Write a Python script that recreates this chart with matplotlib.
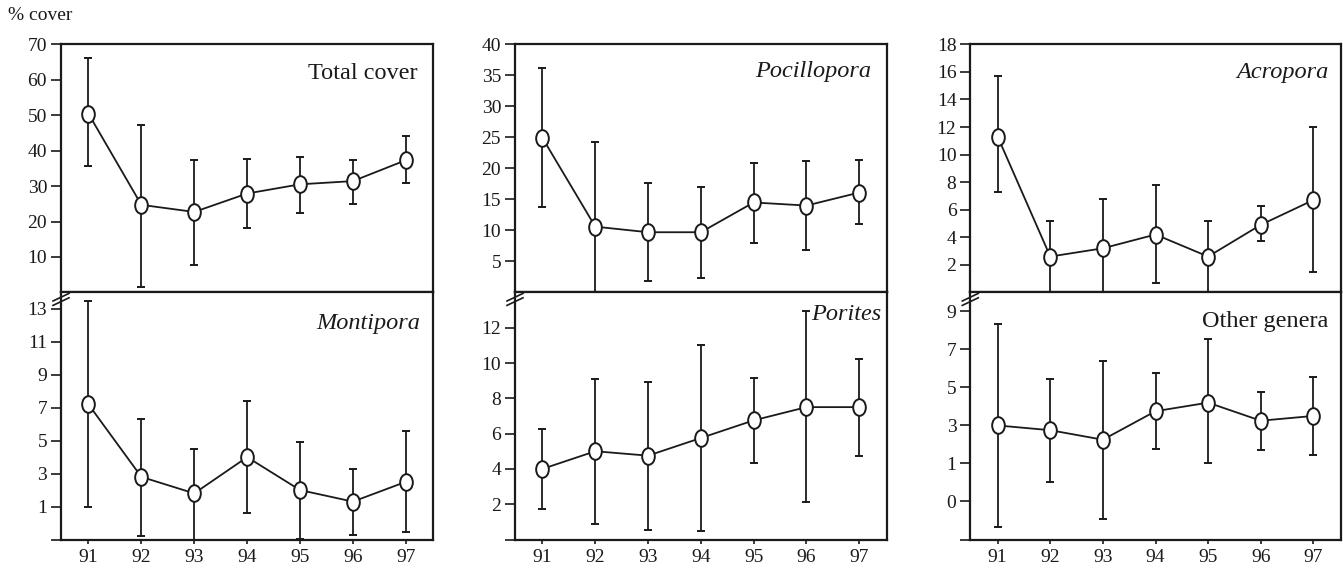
import numpy as np
import matplotlib
matplotlib.use("Agg")
import matplotlib.pyplot as plt
from matplotlib.path import Path
from matplotlib.transforms import Affine2D

plt.rcParams['font.family'] = ['Liberation Serif', 'DejaVu Serif']

years = [91, 92, 93, 94, 95, 96, 97]

# Total cover
total_mean = [50.4, 24.7, 22.7, 27.9, 30.5, 31.4, 37.3]
total_hi = [66.1, 47.1, 37.3, 37.6, 38.1, 37.4, 44.1]
total_lo = [35.8, 1.4, 7.7, 18.3, 22.3, 25.0, 30.9]

# Pocillopora
poci_mean = [24.9, 10.6, 9.7, 9.7, 14.5, 14.0, 16.1]
poci_hi = [36.2, 24.3, 17.7, 17.0, 20.9, 21.2, 21.4]
poci_lo = [13.7, -1.0, 1.8, 2.4, 8.0, 6.8, 11.0]

# Acropora
acro_mean = [11.3, 2.6, 3.2, 4.2, 2.6, 4.9, 6.7]
acro_hi = [15.7, 5.2, 6.8, 7.8, 5.2, 6.3, 12.0]
acro_lo = [7.3, -0.5, -0.5, 0.7, -0.5, 3.7, 1.5]

# Montipora
monti_mean = [7.2, 2.8, 1.8, 4.0, 2.0, 1.3, 2.5]
monti_hi = [13.5, 6.3, 4.5, 7.4, 4.9, 3.3, 5.6]
monti_lo = [1.0, -0.8, -1.5, 0.6, -0.95, -0.75, -0.55]

# Porites
pori_mean = [4.0, 5.0, 4.75, 5.75, 6.75, 7.5, 7.5]
pori_hi = [6.25, 9.1, 8.95, 11.0, 9.15, 12.95, 10.25]
pori_lo = [1.75, 0.9, 0.55, 0.5, 4.35, 2.1, 4.75]

# Other genera
other_mean = [3.0, 2.75, 2.25, 3.75, 4.2, 3.25, 3.5]
other_hi = [8.35, 5.45, 6.4, 5.75, 7.55, 4.75, 5.55]
other_lo = [-2.35, 0.0, -1.9, 1.75, 1.0, 1.7, 1.45]

panels = [
    ("Total cover", total_mean, total_lo, total_hi, (0, 70), [10, 20, 30, 40, 50, 60, 70],
     ["10", "20", "30", "40", "50", "60", "70"], "normal", (0.043, 0.883)),
    ("Pocillopora", poci_mean, poci_lo, poci_hi, (0, 40), [5, 10, 15, 20, 25, 30, 35, 40],
     ["5", "10", "15", "20", "25", "30", "35", "40"], "italic", (0.042, 0.891)),
    ("Acropora", acro_mean, acro_lo, acro_hi, (0, 18), [2, 4, 6, 8, 10, 12, 14, 16, 18],
     ["2", "4", "6", "8", "10", "12", "14", "16", "18"], "italic", (0.034, 0.885)),
    ("Montipora", monti_mean, monti_lo, monti_hi, (-1, 14), [-1, 1, 3, 5, 7, 9, 11, 13],
     ["", "1", "3", "5", "7", "9", "11", "13"], "italic", (0.036, 0.874)),
    ("Porites", pori_mean, pori_lo, pori_hi, (0, 14), [0, 2, 4, 6, 8, 10, 12],
     ["", "2", "4", "6", "8", "10", "12"], "italic", (0.015, 0.911)),
    ("Other genera", other_mean, other_lo, other_hi, (-3, 10), [-3, -1, 1, 3, 5, 7, 9],
     ["", "0", "1", "3", "5", "7", "9"], "normal", (0.034, 0.881)),
]

W, H = 1343, 572
fig = plt.figure(figsize=(W / 100, H / 100), dpi=100)

col_left = [61, 515, 970.3]
col_right = [433.3, 886.7, 1340.7]
row_top = [44.3, 292.4]
row_bot = [292.4, 539.5]

ink = '#1a1a1a'
ellipse = Path.unit_circle().transformed(Affine2D().scale(0.76, 1.0))

for i, (name, mean, lo, hi, ylim, yt, ytl, style, pos) in enumerate(panels):
    r, c = divmod(i, 3)
    x0, x1 = col_left[c], col_right[c]
    t, b = row_top[r], row_bot[r]
    ax = fig.add_axes([x0 / W, (H - b) / H, (x1 - x0) / W, (b - t) / H])
    mean = np.array(mean)
    yerr = [mean - np.array(lo), np.array(hi) - mean]
    ax.errorbar(years, mean, yerr=yerr, fmt='-', color=ink, lw=1.3,
                elinewidth=1.3, capsize=2.6, capthick=1.8,
                marker=ellipse, ms=12, mfc='white', mec=ink, mew=1.4, zorder=3)
    ax.set_xlim(90.48, 97.52)
    ax.set_ylim(*ylim)
    ax.set_yticks(yt)
    ax.set_yticklabels(ytl)
    for s in ax.spines.values():
        s.set_linewidth(1.6)
        s.set_color(ink)
    ax.tick_params(axis='y', direction='out', length=7, width=1.2, pad=3,
                   labelsize=14, colors=ink)
    if r == 0:
        ax.tick_params(axis='x', bottom=False, labelbottom=False)
    else:
        ax.set_xticks(years)
        ax.set_xticklabels([str(y) for y in years])
        ax.tick_params(axis='x', direction='out', length=3, width=1.2, pad=4,
                       labelsize=14, colors=ink)
        # axis break marks on the left spine
        w_px, h_px = x1 - x0, b - t
        for off in (-2.2, 2.2):
            ax.plot([-8 / w_px, 8 / w_px],
                    [1 - (7 + off + 3.8) / h_px, 1 - (7 + off - 3.8) / h_px],
                    transform=ax.transAxes, color=ink, lw=1.2, clip_on=False)
    ax.text(1 - pos[0], pos[1], name, transform=ax.transAxes, ha='right',
            va='center', fontsize=17.5, style=style, color=ink)

fig.text(8 / W, 1 - 15 / H, "% cover", ha='left', va='center', fontsize=14, color=ink)

fig.savefig("out.png", dpi=100)
